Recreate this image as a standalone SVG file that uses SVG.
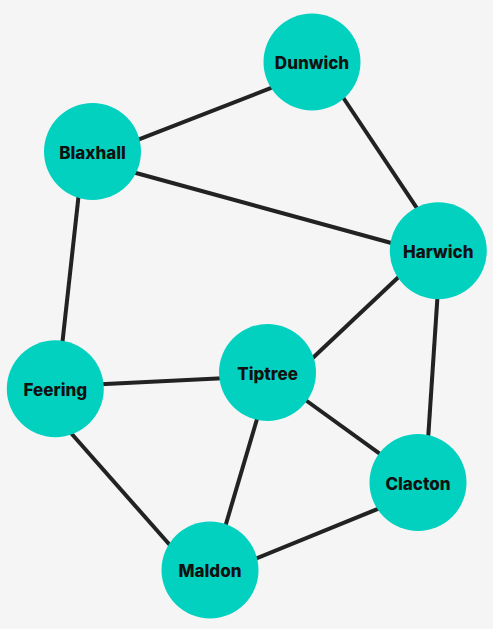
<svg xmlns="http://www.w3.org/2000/svg" width="493" height="629" viewBox="0 0 493 629">
<style>
.edge{stroke:#222;stroke-width:4;fill:none}
.node circle{fill:#02d1c0}
.node text{font-family:Inter,"Noto Sans",sans-serif;font-weight:800;font-size:17px;fill:#111;text-anchor:middle}
</style>
<rect width="493" height="629" fill="#f5f5f5"/>
<g id="edges">
<line class="edge" x1="132.5" y1="141.9" x2="277.5" y2="85.4"/>
<line class="edge" x1="129.6" y1="171.2" x2="397.7" y2="244.8"/>
<line class="edge" x1="340.1" y1="93" x2="420.9" y2="214.2"/>
<line class="edge" x1="437.8" y1="292" x2="427.8" y2="443"/>
<line class="edge" x1="403.1" y1="272.8" x2="308.2" y2="362.2"/>
<line class="edge" x1="301.3" y1="397" x2="384.8" y2="457.4"/>
<line class="edge" x1="79.2" y1="190.3" x2="61.8" y2="348"/>
<line class="edge" x1="67.4" y1="429" x2="173.6" y2="549.3"/>
<line class="edge" x1="259" y1="412.3" x2="223.7" y2="531.7"/>
<line class="edge" x1="384.1" y1="506.3" x2="249.3" y2="561.3"/>
<line class="edge" x1="95.5" y1="384.4" x2="227.5" y2="378.1"/>
</g>
<g id="Dunwich" class="node"><circle cx="312" cy="62" r="48.5"/><text x="312" y="69">Dunwich</text></g>
<g id="Blaxhall" class="node"><circle cx="92.5" cy="151.5" r="48.5"/><text x="92.5" y="158.5">Blaxhall</text></g>
<g id="Harwich" class="node"><circle cx="438.3" cy="250.8" r="48.5"/><text x="438.3" y="257.8">Harwich</text></g>
<g id="Feering" class="node"><circle cx="55.3" cy="388.7" r="48.5"/><text x="55.3" y="395.7">Feering</text></g>
<g id="Tiptree" class="node"><circle cx="267.5" cy="372.5" r="48.5"/><text x="267.5" y="379.5">Tiptree</text></g>
<g id="Clacton" class="node"><circle cx="418" cy="482.5" r="48.5"/><text x="418" y="489.5">Clacton</text></g>
<g id="Maldon" class="node"><circle cx="210" cy="570" r="48.5"/><text x="210" y="577">Maldon</text></g>
</svg>
